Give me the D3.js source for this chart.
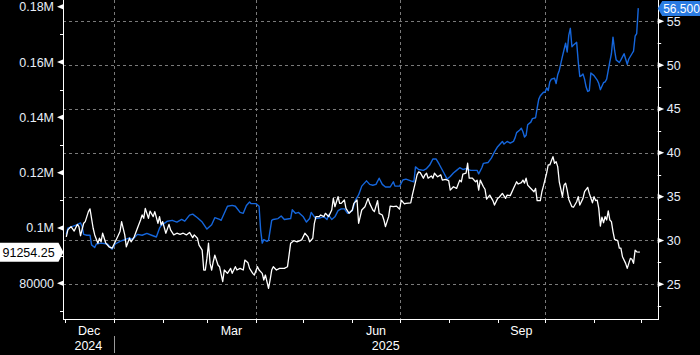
<!DOCTYPE html>
<html><head><meta charset="utf-8">
<script src="https://cdn.jsdelivr.net/npm/d3@7"></script>
<style>
html,body{margin:0;padding:0;background:#000;}
svg{display:block;}
text{font-family:"Liberation Sans",Arial,sans-serif;}
</style></head><body>
<svg id="chart" width="700" height="355"></svg>
<script>
// ---------------- data ----------------
const baseDate = "2024-12-01"; // day 0
// [day offset from baseDate, value]  (left axis)
const whiteSeries = [[1,96800],[2,99300],[4,100500],[6,98900],[8,101300],[9,100500],[10,97200],[12,101700],[13,102300],[15,105900],[16,106900],[18,99900],[19,97500],[21,94500],[22,96300],[23,95000],[24,98100],[26,94500],[28,93200],[30,92700],[32,95000],[34,97500],[35,98700],[36,102300],[38,97500],[39,93200],[41,96300],[42,95000],[44,96800],[46,99900],[48,102900],[49,104700],[50,103500],[51,107100],[53,103500],[54,106100],[56,104100],[57,105900],[59,101700],[60,104100],[61,101100],[62,102300],[64,98100],[66,101300],[67,99300],[69,97500],[71,98100],[73,97700],[75,98100],[77,97500],[79,98400],[81,96500],[82,97500],[84,96300],[85,93800],[87,92000],[88,84800],[89,84800],[90,89000],[91,94500],[92,87200],[93,84800],[94,87800],[95,90200],[97,86600],[98,86000],[100,80600],[101,84800],[103,83600],[105,85400],[106,83600],[108,86000],[109,84800],[111,85400],[113,84800],[114,88400],[116,87400],[117,85400],[119,83600],[120,83000],[122,86000],[123,84800],[125,83600],[126,81200],[127,83000],[129,78200],[130,81200],[131,84800],[132,86000],[134,84800],[136,85400],[139,85400],[141,86000],[143,94500],[145,95400],[147,95000],[150,95700],[152,98100],[154,96800],[155,95000],[157,96300],[158,101700],[159,104100],[161,104100],[162,104700],[164,104100],[165,105300],[167,104100],[169,106500],[170,110700],[171,107700],[173,111300],[174,108900],[175,108900],[177,110100],[178,107100],[180,105300],[182,106500],[183,108900],[185,110100],[186,101700],[188,106500],[190,107700],[192,110700],[193,108900],[195,106500],[196,105900],[198,109900],[199,105300],[201,104700],[202,102900],[203,100500],[205,104100],[206,107900],[208,107700],[210,107900],[212,106800],[213,110100],[215,108700],[216,108900],[219,109100],[220,111900],[222,116700],[223,119200],[224,120300],[225,120000],[227,118000],[228,119200],[229,119800],[230,118000],[232,118800],[233,118000],[234,119800],[236,118500],[238,119200],[239,117300],[241,117600],[243,117100],[244,113700],[246,114900],[248,114300],[250,117300],[251,116700],[252,119500],[254,119800],[255,123400],[256,118000],[258,118000],[260,116700],[261,117300],[262,113700],[263,117300],[265,114900],[266,114000],[267,110400],[269,111900],[271,109900],[272,108300],[274,110700],[275,111100],[277,112500],[279,110700],[280,111900],[282,111700],[284,114300],[286,116700],[287,115900],[289,116400],[290,117300],[291,116200],[292,118000],[293,115500],[295,114300],[297,113100],[298,114300],[299,109900],[301,109900],[302,113100],[303,115200],[305,119800],[306,122800],[307,122800],[308,124300],[309,125800],[310,123400],[311,124000],[312,122200],[313,116700],[315,111300],[316,115500],[317,116200],[318,113700],[319,110400],[321,107700],[322,107500],[324,109500],[325,111300],[326,108300],[328,110700],[329,113100],[331,114700],[332,112500],[334,109100],[335,111300],[336,109900],[337,110100],[338,107100],[339,100700],[340,103900],[341,101900],[342,104100],[343,102900],[344,106200],[345,102900],[346,102300],[347,98700],[348,95900],[350,95400],[351,92700],[352,92700],[353,89600],[355,87200],[356,85400],[357,87200],[358,89000],[359,88700],[360,87200],[361,92000],[362,91400],[364,91254.25]];
// [day offset from baseDate, value]  (right axis)
const blueSeries = [[1,30.7],[2,31.4],[5,31.6],[8,31.8],[10,32.0],[11,31.6],[12,30.7],[14,30.6],[16,30.6],[17,29.5],[19,29.2],[20,29.6],[23,29.7],[27,29.6],[30,29.0],[32,29.6],[35,29.9],[38,30.1],[41,30.3],[43,30.1],[46,30.7],[49,30.6],[52,30.8],[55,30.6],[58,30.4],[60,31.4],[61,31.7],[65,32.2],[68,32.3],[71,32.1],[74,32.4],[76,32.2],[79,32.9],[81,33.0],[84,32.6],[87,32.1],[90,31.3],[93,31.8],[95,32.6],[98,32.4],[99,32.3],[100,32.7],[103,33.9],[106,34.0],[108,33.9],[111,33.2],[113,33.1],[115,34.0],[117,34.4],[118,34.2],[121,34.2],[123,33.9],[124,31.2],[125,29.7],[126,30.1],[128,29.9],[129,30.0],[131,32.3],[132,32.4],[135,32.5],[137,32.8],[139,32.4],[143,32.5],[144,33.5],[146,33.1],[148,33.2],[151,32.7],[153,32.1],[155,32.5],[156,33.2],[158,32.7],[159,32.5],[162,32.6],[164,32.7],[166,32.4],[167,32.9],[169,32.4],[171,32.7],[173,33.4],[175,33.6],[177,33.6],[179,33.1],[182,33.4],[184,34.6],[186,35.2],[188,36.2],[189,36.4],[191,36.8],[193,36.4],[195,36.3],[197,36.4],[199,37.1],[201,36.4],[203,36.1],[206,36.1],[208,36.7],[209,36.2],[212,36.2],[214,36.9],[216,37.0],[219,36.8],[221,36.7],[222,38.4],[224,38.1],[227,38.0],[229,38.2],[231,38.6],[233,39.3],[235,39.3],[237,38.7],[240,37.7],[242,37.0],[244,37.3],[246,37.7],[248,38.0],[250,38.3],[252,38.1],[254,38.2],[255,38.1],[257,38.0],[259,38.0],[261,38.0],[262,37.6],[264,38.3],[265,38.8],[268,38.9],[270,39.4],[272,40.1],[274,40.7],[277,41.3],[278,41.0],[280,41.3],[282,41.1],[284,41.3],[285,41.7],[286,42.3],[288,42.6],[289,42.8],[290,42.4],[291,41.8],[292,42.0],[293,43.2],[295,43.5],[296,43.9],[298,44.0],[299,45.1],[300,46.1],[301,46.5],[303,46.9],[304,46.9],[305,47.4],[306,47.1],[307,48.1],[308,48.4],[310,48.5],[311,47.9],[312,48.9],[313,49.4],[314,50.2],[315,51.0],[317,52.5],[318,51.5],[319,53.4],[320,54.2],[321,52.1],[322,52.3],[324,52.6],[325,50.4],[326,48.7],[327,48.8],[328,49.0],[329,48.4],[330,47.5],[331,47.0],[332,47.1],[333,49.1],[335,48.8],[337,48.3],[338,47.9],[339,47.2],[341,48.0],[342,48.1],[343,48.4],[345,50.4],[346,51.3],[347,53.2],[348,51.7],[349,50.6],[351,50.3],[352,50.6],[354,51.3],[356,50.1],[357,50.7],[359,51.3],[360,51.6],[361,53.3],[362,53.6],[363,56.5]];

const leftTicks = [80000,100000,120000,140000,160000,180000];
const leftTickLabels = ["80000","0.1M","0.12M","0.14M","0.16M","0.18M"];
const leftMinorTicks = [70000,90000,110000,130000,150000,170000];
const rightTicks = [25,30,35,40,45,50,55];
const rightMinorTicks = [22.5,27.5,32.5,37.5,42.5,47.5,52.5];
const monthLabels = [["2024-12-01","Dec"],["2025-03-01","Mar"],["2025-06-01","Jun"],["2025-09-01","Sep"]];
const yearLabels = [["2024","2024"],["2025","2025"]];
const quarterStarts = ["2025-01-01","2025-04-01","2025-07-01","2025-10-01"];
const xDomain = ["2024-11-29T22:00:00Z","2025-12-11T07:00:00Z"];
const leftDomain = [66733,182422];
const rightDomain = [20.93,57.43];

// ---------------- drawing ----------------
const svg = d3.select("#chart");
const W = 700, H = 355;
const L = 63, R = 657.7, T = 0, B = 320;
const parse = d3.utcParse("%Y-%m-%d");
const base = parse(baseDate);
const toDate = d => d3.utcDay.offset(base, d);

const x = d3.scaleUtc().domain(xDomain.map(s => new Date(s))).range([L, R]);
const yL = d3.scaleLinear().domain(leftDomain).range([B, T]);
const yR = d3.scaleLinear().domain(rightDomain).range([B, T]);
const px = v => Math.round(v) + 0.5;

svg.append("rect").attr("width", W).attr("height", H).attr("fill", "#000");

const grid = svg.append("g");
grid.selectAll("line.h").data(rightTicks).join("line")
  .attr("x1", L).attr("x2", R)
  .attr("y1", d => px(yR(d))).attr("y2", d => px(yR(d)))
  .attr("stroke", "#7a7a7a").attr("stroke-width", 1).attr("stroke-dasharray", "3,3");
grid.selectAll("line.v").data(quarterStarts).join("line")
  .attr("x1", d => px(x(parse(d)))).attr("x2", d => px(x(parse(d))))
  .attr("y1", T).attr("y2", B)
  .attr("stroke", "#7a7a7a").attr("stroke-width", 1).attr("stroke-dasharray", "3,3");

const lineBlue = d3.line().x(d => x(toDate(d[0]))).y(d => yR(d[1]));
const lineWhite = d3.line().x(d => x(toDate(d[0]))).y(d => yL(d[1]));
svg.append("path").datum(blueSeries).attr("d", lineBlue)
  .attr("fill", "none").attr("stroke", "#1566dc").attr("stroke-width", 1.4).attr("stroke-linejoin", "round");
svg.append("path").datum(whiteSeries).attr("d", lineWhite)
  .attr("fill", "none").attr("stroke", "#ffffff").attr("stroke-width", 1.3).attr("stroke-linejoin", "round");

const axisG = svg.append("g").attr("stroke", "#fff").attr("stroke-width", 1);
axisG.append("line").attr("x1", px(L)).attr("x2", px(L)).attr("y1", T).attr("y2", B);
axisG.append("line").attr("x1", px(R)).attr("x2", px(R)).attr("y1", T).attr("y2", B);
axisG.append("line").attr("x1", px(L)).attr("x2", px(R)).attr("y1", px(B - 1)).attr("y2", px(B - 1));

svg.selectAll("path.lt").data(leftTicks).join("path")
  .attr("d", d => { const y = yL(d); return `M${L + 0.5},${y - 2.8}L${L - 6},${y}L${L + 0.5},${y + 2.8}Z`; })
  .attr("fill", "#fff");
svg.selectAll("line.lm").data(leftMinorTicks).join("line")
  .attr("x1", L - 3).attr("x2", L).attr("y1", d => px(yL(d))).attr("y2", d => px(yL(d)))
  .attr("stroke", "#fff");
svg.selectAll("text.ll").data(leftTicks).join("text")
  .attr("x", L - 9).attr("y", d => yL(d)).attr("dy", "0.36em")
  .attr("text-anchor", "end").attr("fill", "#e8eef8").attr("font-size", "12.5px")
  .text((d, i) => leftTickLabels[i]);

svg.selectAll("path.rt").data(rightTicks).join("path")
  .attr("d", d => { const y = yR(d); return `M${R},${y - 2.8}L${R + 6.5},${y}L${R},${y + 2.8}Z`; })
  .attr("fill", "#fff");
svg.selectAll("line.rm").data(rightMinorTicks).join("line")
  .attr("x1", R).attr("x2", R + 3.5).attr("y1", d => px(yR(d))).attr("y2", d => px(yR(d)))
  .attr("stroke", "#fff");
svg.selectAll("text.rl").data(rightTicks).join("text")
  .attr("x", R + 9).attr("y", d => yR(d)).attr("dy", "0.36em")
  .attr("text-anchor", "start").attr("fill", "#e8eef8").attr("font-size", "12.5px")
  .text(d => d);

const months = d3.utcMonth.range(parse("2024-12-01"), parse("2025-12-02"));
svg.selectAll("line.mt").data(months).join("line")
  .attr("x1", d => px(x(d))).attr("x2", d => px(x(d)))
  .attr("y1", B - 1).attr("y2", B + 3).attr("stroke", "#fff");
svg.selectAll("text.ml").data(monthLabels).join("text")
  .attr("x", d => { const m = parse(d[0]); return (x(m) + x(d3.utcMonth.offset(m, 1))) / 2; })
  .attr("y", 330).attr("dy", "0.36em").attr("text-anchor", "middle")
  .attr("fill", "#fff").attr("font-size", "12.5px").text(d => d[1]);
const jan1 = x(parse("2025-01-01"));
const yearPos = [(L + jan1) / 2, (jan1 + R) / 2];
svg.selectAll("text.yl").data(yearLabels).join("text")
  .attr("x", (d, i) => yearPos[i]).attr("y", 345).attr("dy", "0.36em").attr("text-anchor", "middle")
  .attr("fill", "#fff").attr("font-size", "12.5px").text(d => d[1]);
svg.append("line").attr("x1", px(jan1)).attr("x2", px(jan1)).attr("y1", 336).attr("y2", 353)
  .attr("stroke", "#9a9a9a");

const wLast = whiteSeries[whiteSeries.length - 1][1];
const bLast = blueSeries[blueSeries.length - 1][1];
const wy = yL(wLast);
svg.append("path")
  .attr("d", `M0,${wy - 9.5}L58.5,${wy - 9.5}L63.5,${wy}L58.5,${wy + 9.5}L0,${wy + 9.5}Z`)
  .attr("fill", "#fff");
svg.append("text").attr("x", 2.5).attr("y", wy).attr("dy", "0.36em")
  .attr("fill", "#000").attr("font-size", "12.5px").text(d3.format(".2f")(wLast));
const by = Math.max(yR(bLast), 8.5);
svg.append("path")
  .attr("d", `M${R},${by}L${R + 4.5},${by - 7.5}L${W},${by - 7.5}L${W},${by + 7.5}L${R + 4.5},${by + 7.5}Z`)
  .attr("fill", "#2a7be2");
svg.append("text").attr("x", R + 5.5).attr("y", by).attr("dy", "0.36em")
  .attr("fill", "#fff").attr("font-size", "12px").text(d3.format(".3f")(bLast));
</script>
</body></html>
